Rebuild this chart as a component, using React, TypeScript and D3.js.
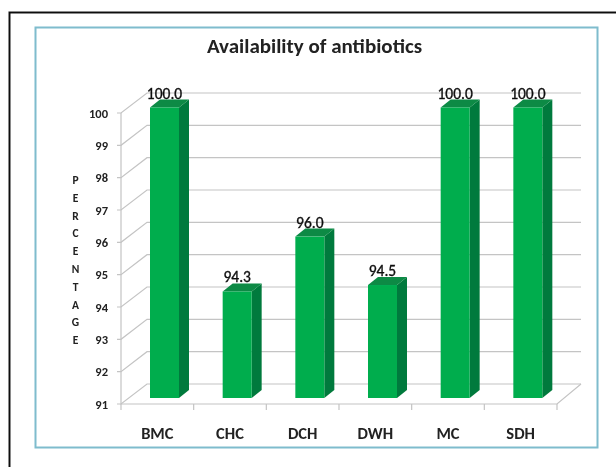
import React from "react";
import * as d3 from "d3";

const categories = ["BMC", "CHC", "DCH", "DWH", "MC", "SDH"];
const values = [100, 94.3, 96, 94.5, 100, 100];
const valueLabels = ["100.0", "94.3", "96.0", "94.5", "100.0", "100.0"];
const yTicks = [91, 92, 93, 94, 95, 96, 97, 98, 99, 100];
const title = "Availability of antibiotics";
const yTitle = "PERCENTAGE".split("");

const FONT = "Carlito, Lato, 'Open Sans', sans-serif";
const GRID = "#c4c4c4";

export default function App() {
  // the 3d box: front plane of the axis, back wall, and the plane the bars stand on
  const x = d3.scaleBand().domain(categories).range([121, 557]);
  const yFront = d3.scaleLinear().domain([91, 100]).range([404, 113]);
  const yBack = d3.scaleLinear().domain([91, 100]).range([384, 93]);
  const yBar = d3.scaleLinear().domain([91, 100]).range([398, 107.5]);
  const depthX = 26;
  const barOffset = 29;
  const barW = 29;
  const sideX = 10;
  const sideY = 8;
  const xTickPos = [...categories.map((c) => x(c)!), 557];

  return (
    <svg
      width={616}
      height={467}
      style={{ position: "absolute", left: 0, top: 0, background: "#fff" }}
      fontFamily={FONT}
    >
      <defs>
        <filter id="soft">
          <feGaussianBlur stdDeviation="0.45" />
        </filter>
      </defs>
      <g filter="url(#soft)">
        {/* outer page frame, only left and top show */}
        <path d="M9.5,467V12.5H616" fill="none" stroke="#111" strokeWidth={2} />
        <rect x={35.5} y={27.5} width={562} height={420} fill="#fff" stroke="#7fbccd" strokeWidth={2} />

        <text x={314.5} y={53} textAnchor="middle" fontSize={21} fontWeight={700} fill="#222">
          {title}
        </text>

        {/* walls */}
        {yTicks.map((t) => (
          <path
            key={t}
            fill="none"
            stroke={GRID}
            strokeWidth={1.2}
            d={`M${121 - 4},${yFront(t)}H121L${121 + depthX},${yBack(t)}H581`}
          />
        ))}
        <path d={`M121,${yFront(100)}V${yFront(91)}H557L581,${yBack(91)}`} fill="none" stroke={GRID} strokeWidth={1.2} />
        {xTickPos.map((p, i) => (
          <line key={i} x1={p} x2={p} y1={404} y2={410} stroke={GRID} strokeWidth={1.2} />
        ))}

        {yTicks.map((t) => (
          <text key={t} x={108} y={yFront(t) + 4.5} textAnchor="end" fontSize={12.5} fontWeight={700} fill="#222">
            {t}
          </text>
        ))}

        {yTitle.map((ch, i) => (
          <text key={i} x={75.5} y={184 + i * 17.8} textAnchor="middle" fontSize={11.5} fontWeight={700} fill="#222">
            {ch}
          </text>
        ))}

        {/* bars */}
        {categories.map((c, i) => {
          const left = x(c)! + barOffset;
          const top = yBar(values[i]);
          const base = yBar(91);
          return (
            <g key={c}>
              <path
                d={`M${left + barW},${top}l${sideX},${-sideY}V${base - sideY}l${-sideX},${sideY}Z`}
                fill="#067a3c"
              />
              <path
                d={`M${left},${top}l${sideX},${-sideY}h${barW}l${-sideX},${sideY}Z`}
                fill="#088a45"
              />
              <rect x={left} y={top} width={barW} height={base - top} fill="#00ad4e" />
              <text x={left + 14.5} y={top - 9} textAnchor="middle" fontSize={15.5} stroke="#111" strokeWidth={0.35} fill="#111">
                {valueLabels[i]}
              </text>
              <text x={x(c)! + x.bandwidth() / 2} y={439} textAnchor="middle" fontSize={16.5} fontWeight={700} fill="#222">
                {c}
              </text>
            </g>
          );
        })}
      </g>
    </svg>
  );
}
